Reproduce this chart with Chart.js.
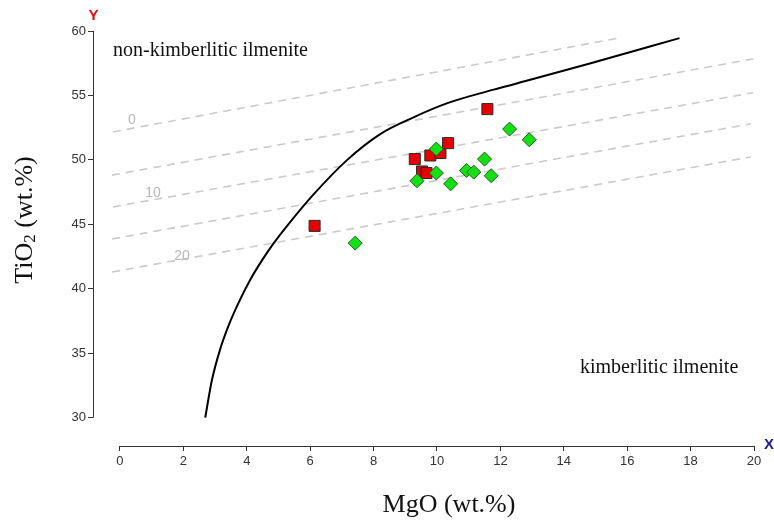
<!DOCTYPE html>
<html>
<head>
<meta charset="utf-8">
<script src="https://cdn.jsdelivr.net/npm/chart.js@4.4.1/dist/chart.umd.min.js"></script>
<style>
html, body { margin: 0; padding: 0; background: #fff; }
#wrap { width: 774px; height: 522px; position: relative; }
</style>
</head>
<body>
<div id="wrap"><canvas id="myChart"></canvas></div>
<script>
// tick labels
const xTicks = [0, 2, 4, 6, 8, 10, 12, 14, 16, 18, 20];
const yTicks = [30, 35, 40, 45, 50, 55, 60];

// red squares (MgO, TiO2)
const redMgO  = [11.59, 9.30, 9.79, 10.11, 10.35, 9.53, 9.67, 6.14];
const redTiO2 = [53.94, 50.06, 50.34, 50.53, 51.30, 49.10, 48.98, 44.88];

// green diamonds (MgO, TiO2)
const greenMgO  = [12.29, 12.91, 9.98, 11.50, 9.98, 9.37, 10.93, 11.16, 11.71, 10.43, 7.42];
const greenTiO2 = [52.39, 51.56, 50.84, 50.06, 48.98, 48.38, 49.18, 49.05, 48.77, 48.14, 43.54];

// kimberlitic / non-kimberlitic boundary curve
const curveMgO  = [2.69, 2.90, 3.16, 3.42, 3.74, 4.11, 4.48, 4.84, 5.28, 6.10, 7.17, 8.21, 9.26, 10.33, 11.79, 13.00, 14.85, 17.65];
const curveTiO2 = [30.0, 32.9, 35.3, 37.1, 38.9, 40.7, 42.2, 43.5, 44.9, 47.3, 50.0, 52.0, 53.3, 54.4, 55.45, 56.25, 57.5, 59.45];

// dashed isolines (start and end points)
const isoMgO  = [[-0.22, 15.8], [-0.25, 20.0], [-0.22, 19.97], [-0.25, 19.9], [-0.25, 19.9]];
const isoTiO2 = [[52.17, 59.48], [48.82, 57.85], [46.35, 55.21], [43.86, 52.80], [41.30, 50.23]];

// isoline labels
const isoLabels  = ["0", "10", "20"];
const isoLabelX  = [0.38, 1.04, 1.96];
const isoLabelY  = [53.1, 47.43, 42.55];

function toPoints(xs, ys){
    return xs.map((x, i) => ({x: x, y: ys[i]}));
}

// text and axis lines drawn on top of the scales
const extras = {
    id: 'extras',
    afterDatasetsDraw(chart){
        const ctx = chart.ctx;
        const xs = chart.scales.x;
        const ys = chart.scales.y;
        ctx.save();

        // axis lines
        ctx.strokeStyle = '#333';
        ctx.lineWidth = 1;
        ctx.beginPath();
        const axY = Math.round(ys.getPixelForValue(ys.min)) + 0.5;
        ctx.moveTo(xs.getPixelForValue(0), axY);
        ctx.lineTo(xs.getPixelForValue(20), axY);
        const axX = Math.round(xs.getPixelForValue(xs.min)) + 0.5;
        ctx.moveTo(axX, ys.getPixelForValue(60));
        ctx.lineTo(axX, ys.getPixelForValue(30));
        ctx.stroke();

        // isoline labels
        ctx.fillStyle = '#b8b8b8';
        ctx.font = '14px "Liberation Sans", Arial, sans-serif';
        ctx.textAlign = 'center';
        ctx.textBaseline = 'middle';
        isoLabels.forEach((t, i) => {
            ctx.fillText(t, xs.getPixelForValue(isoLabelX[i]), ys.getPixelForValue(isoLabelY[i]));
        });

        // axis letters
        ctx.font = 'bold 15px "Liberation Sans", Arial, sans-serif';
        ctx.fillStyle = '#e01010';
        ctx.fillText('Y', axX, 16);
        ctx.fillStyle = '#1a1aa0';
        ctx.fillText('X', 769, axY - 2);

        // region labels
        ctx.fillStyle = '#111';
        ctx.textAlign = 'left';
        ctx.font = '20px "Liberation Serif", "Times New Roman", serif';
        ctx.fillText('non-kimberlitic ilmenite', 113, 51);
        ctx.fillText('kimberlitic ilmenite', 580, 368);

        // x title
        ctx.textAlign = 'center';
        ctx.font = '26px "Liberation Serif", "Times New Roman", serif';
        ctx.fillText('MgO (wt.%)', 449, 505);

        // y title with subscript
        ctx.translate(25, 220);
        ctx.rotate(-Math.PI / 2);
        ctx.textAlign = 'left';
        const big = '26px "Liberation Serif", "Times New Roman", serif';
        const small = '17px "Liberation Serif", "Times New Roman", serif';
        ctx.font = big;
        const w1 = ctx.measureText('TiO').width;
        const w3 = ctx.measureText(' (wt.%)').width;
        ctx.font = small;
        const w2 = ctx.measureText('2').width;
        let px = -(w1 + w2 + w3) / 2;
        ctx.font = big;
        ctx.fillText('TiO', px, 0);
        px += w1;
        ctx.font = small;
        ctx.fillText('2', px, 6);
        px += w2;
        ctx.font = big;
        ctx.fillText(' (wt.%)', px, 0);

        ctx.restore();
    }
};

const tickFont = { family: '"Liberation Sans", Arial, sans-serif', size: 13 };

const datasets = [
    {
        label: 'green',
        data: toPoints(greenMgO, greenTiO2),
        pointStyle: 'rectRot',
        pointRadius: 7,
        backgroundColor: '#12e012',
        borderColor: '#1f5f1f',
        borderWidth: 1
    },
    {
        label: 'red',
        data: toPoints(redMgO, redTiO2),
        pointStyle: 'rect',
        pointRadius: 7.8,
        backgroundColor: '#e60000',
        borderColor: '#2a2a2a',
        borderWidth: 1
    },
    {
        label: 'curve',
        data: toPoints(curveMgO, curveTiO2),
        showLine: true,
        pointRadius: 0,
        borderColor: '#000',
        borderWidth: 2,
        cubicInterpolationMode: 'monotone'
    }
];

isoMgO.forEach((xs, i) => {
    datasets.push({
        label: 'iso' + i,
        data: toPoints(xs, isoTiO2[i]),
        showLine: true,
        pointRadius: 0,
        borderColor: '#cacaca',
        borderWidth: 1.6,
        borderDash: [8, 6]
    });
});

const ctx = document.getElementById('myChart').getContext('2d');
const myChart = new Chart(ctx, {
    type: 'scatter',
    data: { datasets: datasets },
    options: {
        responsive: true,
        maintainAspectRatio: false,
        animation: false,
        layout: { padding: { top: 31, right: 20, left: 0, bottom: 0 } },
        plugins: {
            legend: { display: false },
            tooltip: { enabled: false }
        },
        scales: {
            x: {
                type: 'linear',
                min: -0.85,
                max: 20,
                afterBuildTicks: (s) => { s.ticks = xTicks.map(v => ({ value: v })); },
                afterFit: (s) => { s.height = 76; },
                border: { display: false },
                grid: { drawOnChartArea: false, drawTicks: true, tickLength: 5, color: '#333' },
                ticks: { autoSkip: false, maxRotation: 0, padding: 3, color: '#333', font: tickFont }
            },
            y: {
                type: 'linear',
                min: 27.8,
                max: 60,
                afterBuildTicks: (s) => { s.ticks = yTicks.map(v => ({ value: v })); },
                afterFit: (s) => { s.width = 93; },
                border: { display: false },
                grid: { drawOnChartArea: false, drawTicks: true, tickLength: 5, color: '#333' },
                ticks: { autoSkip: false, padding: 2, color: '#333', font: tickFont }
            }
        }
    },
    plugins: [extras]
});
</script>
</body>
</html>
